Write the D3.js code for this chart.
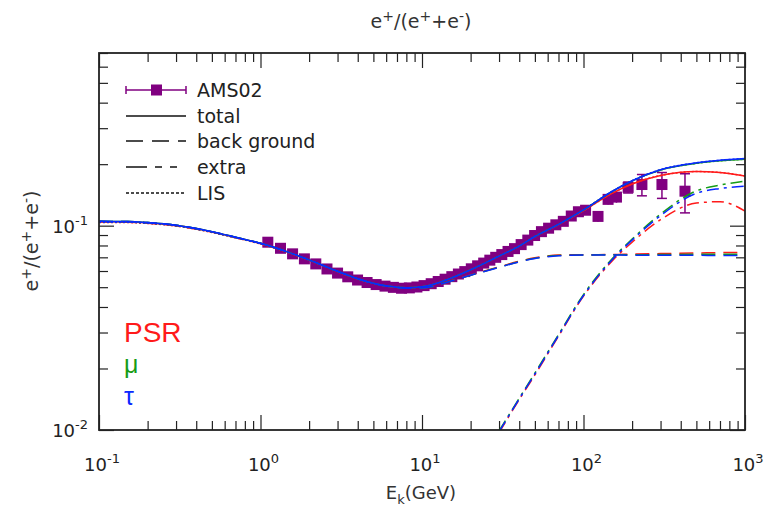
<!DOCTYPE html>
<html>
<head>
<meta charset="utf-8">
<script src="https://cdn.jsdelivr.net/npm/d3@7"></script>
<style>
  body { margin: 0; background: #fff; }
  svg { font-family: "DejaVu Sans", sans-serif; }
  .tick line { stroke: #222; stroke-width: 1.2; }
</style>
</head>
<body>
<script>
const width = 765;
const height = 509;

// model curves, sampled on these energies (GeV)
const energy = [0.1, 0.15, 0.2, 0.3, 0.5, 0.7, 1, 1.5, 2, 3, 4, 5, 6, 8, 10, 15, 20, 30, 40, 50, 70, 100, 150, 200, 300, 500, 700, 1000];

const totalTau = [0.105, 0.1048, 0.1035, 0.1005, 0.0935, 0.0878, 0.0820, 0.0740, 0.0680, 0.0598, 0.0550, 0.0523, 0.0508, 0.0497, 0.0502, 0.0552, 0.0608, 0.0710, 0.0795, 0.0885, 0.1015, 0.1195, 0.1470, 0.1660, 0.1880, 0.2030, 0.2090, 0.2130];
const totalMu = [0.105, 0.1048, 0.1035, 0.1005, 0.0935, 0.0878, 0.0820, 0.0740, 0.0680, 0.0598, 0.0550, 0.0523, 0.0508, 0.0497, 0.0502, 0.0552, 0.0608, 0.0710, 0.0795, 0.0885, 0.1015, 0.1194, 0.1468, 0.1656, 0.1874, 0.2020, 0.2078, 0.2115];
const totalPsr = [0.1045, 0.1043, 0.1031, 0.1001, 0.0932, 0.0876, 0.0818, 0.0739, 0.0679, 0.0597, 0.0549, 0.0522, 0.0507, 0.0497, 0.0502, 0.0552, 0.0608, 0.0710, 0.0795, 0.0884, 0.1012, 0.1185, 0.1440, 0.1600, 0.1760, 0.1840, 0.1820, 0.1750];

const bgTau = [0.105, 0.1048, 0.1035, 0.1005, 0.0935, 0.0878, 0.0820, 0.0740, 0.0680, 0.0598, 0.0550, 0.0522, 0.0506, 0.0494, 0.0495, 0.0535, 0.0572, 0.0625, 0.0665, 0.0690, 0.0712, 0.0718, 0.0718, 0.0717, 0.0716, 0.0716, 0.0715, 0.0715];
const bgMu = [0.105, 0.1048, 0.1035, 0.1005, 0.0935, 0.0878, 0.0820, 0.0740, 0.0680, 0.0598, 0.0550, 0.0522, 0.0506, 0.0494, 0.0495, 0.0535, 0.0572, 0.0626, 0.0667, 0.0693, 0.0715, 0.0719, 0.0720, 0.0720, 0.0722, 0.0724, 0.0725, 0.0726];
const bgPsr = [0.1042, 0.1040, 0.1028, 0.0998, 0.0930, 0.0874, 0.0816, 0.0738, 0.0678, 0.0596, 0.0548, 0.0521, 0.0506, 0.0494, 0.0495, 0.0536, 0.0574, 0.0628, 0.0670, 0.0696, 0.0718, 0.0721, 0.0722, 0.0726, 0.0730, 0.0735, 0.0738, 0.0740];

const extraTau = [null, null, null, null, null, null, null, null, null, null, null, null, null, null, null, null, null, 0.0098, 0.0142, 0.0188, 0.0290, 0.0455, 0.0680, 0.0850, 0.1120, 0.1440, 0.1520, 0.1560];
const extraMu = [null, null, null, null, null, null, null, null, null, null, null, null, null, null, null, null, null, 0.0099, 0.0143, 0.0190, 0.0293, 0.0460, 0.0687, 0.0860, 0.1140, 0.1480, 0.1580, 0.1650];
const extraPsr = [null, null, null, null, null, null, null, null, null, null, null, null, null, null, null, null, null, 0.0097, 0.0141, 0.0186, 0.0288, 0.0452, 0.0670, 0.0830, 0.1070, 0.1290, 0.1310, 0.1180];

const lisTau = [0.1040, 0.1040, 0.1030, 0.1000, 0.0930, 0.0874, 0.0817, 0.0738, 0.0679, 0.0597, 0.0549, 0.0522, 0.0507, 0.0497, 0.0502, 0.0552, 0.0608, 0.0710, 0.0795, 0.0885, 0.1015, 0.1195, 0.1470, 0.1660, 0.1880, 0.2030, 0.2090, 0.2130];
const lisMu = [0.1040, 0.1040, 0.1030, 0.1000, 0.0930, 0.0874, 0.0817, 0.0738, 0.0679, 0.0597, 0.0549, 0.0522, 0.0507, 0.0497, 0.0502, 0.0552, 0.0608, 0.0710, 0.0795, 0.0885, 0.1015, 0.1194, 0.1468, 0.1656, 0.1874, 0.2020, 0.2078, 0.2115];
const lisPsr = [0.1036, 0.1036, 0.1026, 0.0996, 0.0927, 0.0872, 0.0815, 0.0737, 0.0678, 0.0596, 0.0548, 0.0521, 0.0506, 0.0497, 0.0502, 0.0552, 0.0608, 0.0710, 0.0795, 0.0884, 0.1012, 0.1185, 0.1440, 0.1600, 0.1760, 0.1840, 0.1820, 0.1750];

// AMS02 positron fraction
const amsE = [1.11, 1.33, 1.58, 1.87, 2.2, 2.58, 3.0, 3.47, 3.99, 4.57, 5.2, 5.9, 6.65, 7.47, 8.35, 9.3, 10.3, 11.4, 12.6, 13.9, 15.3, 16.8, 18.4, 20.2, 22.1, 24.1, 26.3, 28.6, 31.2, 34.1, 37.4, 41.1, 45.2, 49.8, 54.9, 60.8, 67.4, 75.0, 84.0, 93.0, 103, 123, 142, 160, 189, 230, 306, 425];
const amsF = [0.0830, 0.0775, 0.0728, 0.0688, 0.0650, 0.0614, 0.0586, 0.0562, 0.0542, 0.0527, 0.0515, 0.0506, 0.0499, 0.0494, 0.0496, 0.0501, 0.0509, 0.0520, 0.0533, 0.0547, 0.0563, 0.0580, 0.0596, 0.0615, 0.0636, 0.0656, 0.0678, 0.0700, 0.0722, 0.0748, 0.0772, 0.0808, 0.0850, 0.0895, 0.0935, 0.0972, 0.1010, 0.1050, 0.1115, 0.1170, 0.1190, 0.1110, 0.1345, 0.1380, 0.1540, 0.1590, 0.1590, 0.1475];
const amsErr = [0.0008, 0.0007, 0.0007, 0.0006, 0.0006, 0.0006, 0.0006, 0.0006, 0.0006, 0.0006, 0.0006, 0.0006, 0.0006, 0.0006, 0.0006, 0.0007, 0.0007, 0.0008, 0.0008, 0.0009, 0.0009, 0.0010, 0.0011, 0.0011, 0.0012, 0.0013, 0.0014, 0.0015, 0.0016, 0.0018, 0.0020, 0.0022, 0.0025, 0.0028, 0.0031, 0.0035, 0.0039, 0.0044, 0.0050, 0.0056, 0.0060, 0.0066, 0.0075, 0.0085, 0.0095, 0.0190, 0.0230, 0.0320];

const xMajor = [0.1, 1, 10, 100, 1000];
const xMajorExp = ["-1", "0", "1", "2", "3"];
const yMajor = [0.01, 0.1];
const yMajorExp = ["-2", "-1"];

const legendNames = ["AMS02", "total", "back ground", "extra", "LIS"];
const modelNames = ["PSR", "\u03bc", "\u03c4"];
const modelColors = ["#ff1a1a", "#169c16", "#0a28ff"];

const plotLeft = 99, plotRight = 745, plotTop = 53, plotBottom = 430;

const svg = d3.select("body").append("svg")
  .attr("width", width)
  .attr("height", height);

const x = d3.scaleLog().domain([0.1, 1000]).range([plotLeft, plotRight]);
const y = d3.scaleLog().domain([0.01, 0.7]).range([plotBottom, plotTop]);

svg.append("clipPath").attr("id", "plot")
  .append("rect")
  .attr("x", plotLeft).attr("y", plotTop)
  .attr("width", plotRight - plotLeft).attr("height", plotBottom - plotTop);

// minor / major ticks on all four sides, pointing in
const xMinor = x.ticks().filter(v => !xMajor.some(m => Math.abs(m - v) < 1e-9));
const yMinor = y.ticks().filter(v => !yMajor.some(m => Math.abs(m - v) < 1e-9));

function tickGroup(axis, tx, ty) {
  const g = svg.append("g").attr("transform", `translate(${tx},${ty})`).call(axis);
  g.select(".domain").remove();
  g.selectAll("text").remove();
  return g;
}
tickGroup(d3.axisBottom(x).tickValues(xMinor).tickSize(-9), 0, plotBottom);
tickGroup(d3.axisBottom(x).tickValues(xMajor).tickSize(-15), 0, plotBottom);
tickGroup(d3.axisTop(x).tickValues(xMinor).tickSize(-9), 0, plotTop);
tickGroup(d3.axisTop(x).tickValues(xMajor).tickSize(-15), 0, plotTop);
tickGroup(d3.axisLeft(y).tickValues(yMinor).tickSize(-9), plotLeft, 0);
tickGroup(d3.axisLeft(y).tickValues(yMajor).tickSize(-15), plotLeft, 0);
tickGroup(d3.axisRight(y).tickValues(yMinor).tickSize(-9), plotRight, 0);
tickGroup(d3.axisRight(y).tickValues(yMajor).tickSize(-15), plotRight, 0);

// tick labels, 10^n
const xl = svg.append("g").selectAll("text")
  .data(xMajor)
  .enter().append("text")
  .attr("x", d => x(d) + 3)
  .attr("y", 471)
  .attr("text-anchor", "middle")
  .style("font-size", "18px")
  .style("fill", "#222");
xl.append("tspan").text("10");
xl.append("tspan").attr("dy", -8).style("font-size", "13px").text((d, i) => xMajorExp[i]);

const yl = svg.append("g").selectAll("text")
  .data(yMajor)
  .enter().append("text")
  .attr("x", 88)
  .attr("y", d => y(d) + 7)
  .attr("text-anchor", "end")
  .style("font-size", "18px")
  .style("fill", "#222");
yl.append("tspan").text("10");
yl.append("tspan").attr("dy", -8).style("font-size", "13px").text((d, i) => yMajorExp[i]);

// data points
const ams = amsE.map((e, i) => ({ e: e, f: amsF[i], err: amsErr[i] }));
const pts = svg.append("g").attr("clip-path", "url(#plot)");
pts.selectAll("line.bar")
  .data(ams)
  .enter().append("line")
  .attr("x1", d => x(d.e)).attr("x2", d => x(d.e))
  .attr("y1", d => y(d.f - d.err)).attr("y2", d => y(d.f + d.err))
  .attr("stroke", "#800080").attr("stroke-width", 1.5);
pts.selectAll("line.capHi")
  .data(ams.filter(d => d.err > 0.009))
  .enter().append("line")
  .attr("x1", d => x(d.e) - 5).attr("x2", d => x(d.e) + 5)
  .attr("y1", d => y(d.f + d.err)).attr("y2", d => y(d.f + d.err))
  .attr("stroke", "#800080").attr("stroke-width", 1.5);
pts.selectAll("line.capLo")
  .data(ams.filter(d => d.err > 0.009))
  .enter().append("line")
  .attr("x1", d => x(d.e) - 5).attr("x2", d => x(d.e) + 5)
  .attr("y1", d => y(d.f - d.err)).attr("y2", d => y(d.f - d.err))
  .attr("stroke", "#800080").attr("stroke-width", 1.5);
pts.selectAll("rect")
  .data(ams)
  .enter().append("rect")
  .attr("x", d => x(d.e) - 5.5).attr("y", d => y(d.f) - 5.5)
  .attr("width", 11).attr("height", 11)
  .attr("fill", "#800080");

// model curves
const line = d3.line()
  .defined(d => d[1] != null)
  .x(d => x(d[0]))
  .y(d => y(d[1]))
  .curve(d3.curveMonotoneX);

const models = [
  { total: totalPsr, bg: bgPsr, extra: extraPsr, lis: lisPsr },
  { total: totalMu, bg: bgMu, extra: extraMu, lis: lisMu },
  { total: totalTau, bg: bgTau, extra: extraTau, lis: lisTau }
];
const styles = [
  { key: "bg", dash: "14,8" },
  { key: "extra", dash: "12,5,3,5" },
  { key: "lis", dash: "2,2" },
  { key: "total", dash: null }
];

const curves = svg.append("g").attr("clip-path", "url(#plot)");
models.forEach((m, mi) => {
  styles.forEach(s => {
    curves.append("path")
      .datum(energy.map((e, i) => [e, m[s.key][i]]))
      .attr("d", line)
      .attr("fill", "none")
      .attr("stroke", modelColors[mi])
      .attr("stroke-width", 1.5)
      .attr("stroke-dasharray", s.dash);
  });
});

// frame
svg.append("rect")
  .attr("x", plotLeft).attr("y", plotTop)
  .attr("width", plotRight - plotLeft).attr("height", plotBottom - plotTop)
  .attr("fill", "none")
  .attr("stroke", "#222")
  .attr("stroke-width", 1.8);

// legend
const legendY = [90, 116, 141, 167, 193];
const lg = svg.append("g");
lg.selectAll("text")
  .data(legendNames)
  .enter().append("text")
  .attr("x", 197)
  .attr("y", (d, i) => legendY[i] + 7)
  .style("font-size", "19px")
  .style("fill", "#222")
  .text(d => d);

lg.append("line").attr("x1", 126).attr("x2", 186).attr("y1", legendY[0]).attr("y2", legendY[0])
  .attr("stroke", "#800080").attr("stroke-width", 1.5);
[126, 186].forEach(cx => lg.append("line")
  .attr("x1", cx).attr("x2", cx).attr("y1", legendY[0] - 4).attr("y2", legendY[0] + 4)
  .attr("stroke", "#800080").attr("stroke-width", 1.5));
lg.append("rect").attr("x", 151).attr("y", legendY[0] - 5.5).attr("width", 11).attr("height", 11)
  .attr("fill", "#800080");

const legendDash = [null, "17,9", "21,8,7,8,7,9", "3,2"];
legendDash.forEach((dash, i) => {
  lg.append("line")
    .attr("x1", 126).attr("x2", 186)
    .attr("y1", legendY[i + 1]).attr("y2", legendY[i + 1])
    .attr("stroke", "#111")
    .attr("stroke-width", 1.5)
    .attr("stroke-dasharray", dash);
});

// model labels
svg.append("g").selectAll("text")
  .data(modelNames)
  .enter().append("text")
  .attr("x", 124)
  .attr("y", (d, i) => [342, 373, 405][i])
  .style("font-family", "'Liberation Sans', Arial, sans-serif")
  .style("font-size", (d, i) => i === 0 ? "28px" : "25px")
  .style("fill", (d, i) => modelColors[i])
  .text(d => d);

// title and y label share the same text
function fractionLabel(sel) {
  sel.append("tspan").text("e");
  sel.append("tspan").attr("dy", -7).style("font-size", "14px").text("+");
  sel.append("tspan").attr("dy", 7).text("/(e");
  sel.append("tspan").attr("dy", -7).style("font-size", "14px").text("+");
  sel.append("tspan").attr("dy", 7).text("+e");
  sel.append("tspan").attr("dy", -7).style("font-size", "14px").text("-");
  sel.append("tspan").attr("dy", 7).text(")");
}

svg.append("text")
  .attr("x", 421).attr("y", 28)
  .attr("text-anchor", "middle")
  .style("font-size", "19px")
  .style("fill", "#333")
  .call(fractionLabel);

svg.append("text")
  .attr("transform", "translate(38,241) rotate(-90)")
  .attr("text-anchor", "middle")
  .style("font-size", "19px")
  .style("fill", "#333")
  .call(fractionLabel);

// x label
const xlab = svg.append("text")
  .attr("x", 421).attr("y", 499)
  .attr("text-anchor", "middle")
  .style("font-size", "18px")
  .style("fill", "#333");
xlab.append("tspan").text("E");
xlab.append("tspan").attr("dy", 5).style("font-size", "13px").text("k");
xlab.append("tspan").attr("dy", -5).text("(GeV)");
</script>
</body>
</html>
